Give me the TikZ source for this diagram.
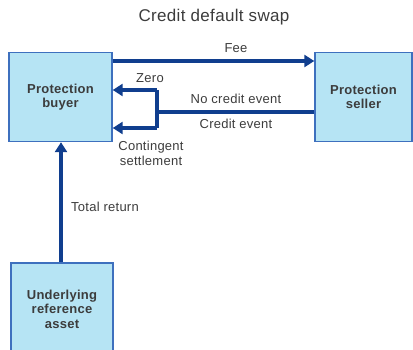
\documentclass[tikz,border=0pt]{standalone}
\usepackage{fontspec}
\setmainfont{Liberation Sans}[LetterSpace=2]
\usetikzlibrary{arrows.meta,calc}
\definecolor{boxfill}{RGB}{182,228,244}
\definecolor{boxline}{RGB}{62,112,190}
\definecolor{flowblue}{RGB}{16,62,142}
\definecolor{txt}{RGB}{60,60,60}
\tikzset{
  party/.style={draw=boxline, line width=1.4pt, fill=boxfill, minimum width=102pt,
    minimum height=89pt, inner sep=0pt, align=center, text=txt,
    font=\bfseries\fontsize{13}{14.5}\selectfont},
  flow/.style={draw=flowblue, line width=4pt},
  flowarrow/.style={flow, -{Triangle[length=10pt,width=12pt]}},
  lbl/.style={text=txt, font=\fontsize{13}{15}\selectfont, inner sep=0pt, align=center}
}
\begin{document}
\begin{tikzpicture}[x=1pt,y=-1pt]
\useasboundingbox (0,0) rectangle (413,350);
\clip (0,0) rectangle (413,350);
\node[lbl, font=\fontsize{17}{19}\selectfont] (title) at (214,17) {Credit default swap};
\node[party, minimum width=103pt] (buyer) at (60.5,97) {Protection\\buyer};
\node[party, minimum width=97pt] (seller) at (363.5,97) {Protection\\seller};
\node[party, minimum height=92pt] (asset) at (62,309) {Underlying\\reference\\asset};
% fee paid by the buyer
\draw[flowarrow] (buyer.east |- 0,61) -- (seller.west |- 0,61);
\node[lbl] (fee) at (236,48) {Fee};
% payment from the seller, split by outcome
\coordinate (split) at (157,112);
\coordinate (splittop) at (157,90);
\coordinate (splitbot) at (157,128);
\draw[flow] (seller.west |- split) -- (split);
\draw[flow] (splittop) -- (splitbot);
\draw[flowarrow] (splittop) -- (buyer.east |- splittop);
\draw[flowarrow] (splitbot) -- (buyer.east |- splitbot);
\node[lbl] (zero) at (150,78) {Zero};
\node[lbl] (nce) at (236,99) {No credit event};
\node[lbl] (ce) at (236,124) {Credit event};
\node[lbl] (cs) at (151,153) {Contingent\\settlement};
% total return from the reference asset
\draw[flowarrow] (asset.north -| 61,0) -- (buyer.south -| 61,0);
\node[lbl, anchor=west] (tr) at (71,207) {Total return};
\end{tikzpicture}
\end{document}
